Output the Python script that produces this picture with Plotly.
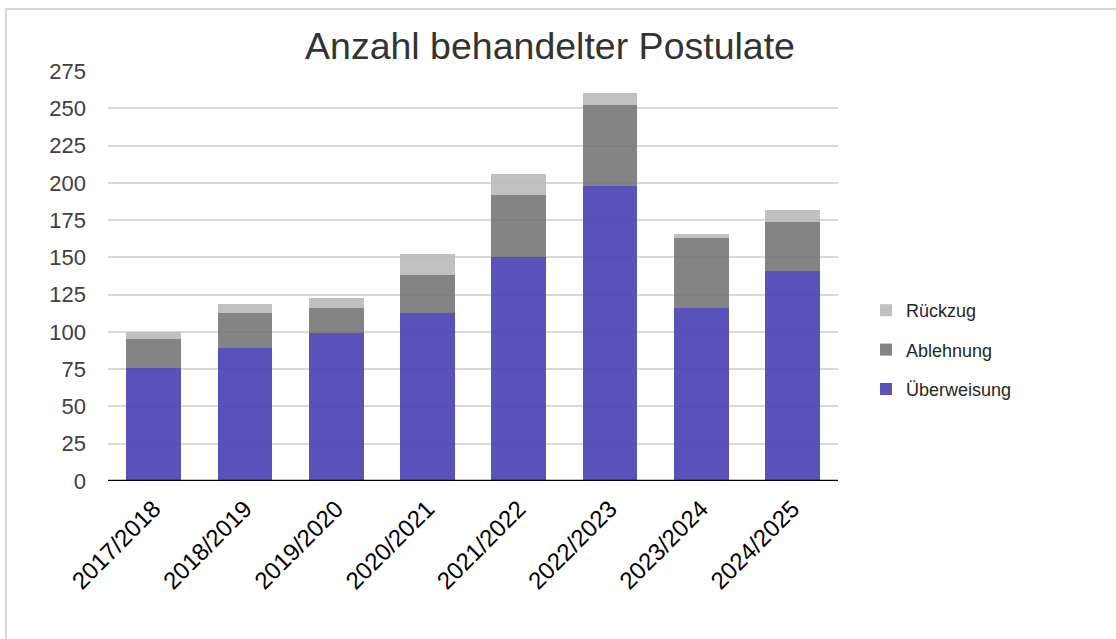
import plotly.graph_objects as go

categories = ["2017/2018", "2018/2019", "2019/2020", "2020/2021",
              "2021/2022", "2022/2023", "2023/2024", "2024/2025"]
ueberweisung = [76, 89, 99, 113, 150, 198, 116, 141]
ablehnung = [19, 24, 17, 25, 42, 54, 47, 33]
rueckzug = [5, 6, 7, 14, 14, 8, 3, 8]
y_ticks = list(range(0, 276, 25))

FONT = "Liberation Sans, Arial, sans-serif"

fig = go.Figure()
fig.add_trace(go.Bar(x=categories, y=ueberweisung, name="Überweisung",
                     marker=dict(color="rgba(72,62,180,0.9)", line=dict(width=0)),
                     legendgroup="a", legendrank=3))
fig.add_trace(go.Bar(x=categories, y=ablehnung, name="Ablehnung",
                     marker=dict(color="rgba(115,115,115,0.88)", line=dict(width=0)),
                     legendgroup="b", legendrank=2))
fig.add_trace(go.Bar(x=categories, y=rueckzug, name="Rückzug",
                     marker=dict(color="rgba(185,185,185,0.9)", line=dict(width=0)),
                     legendgroup="c", legendrank=1))

L, R, T, B = 108, 838, 71, 481
W, H = 1116, 639
pw, ph = R - L, B - T

def px(xp):
    return (xp - L) / pw

def py(yp):
    return (B - yp) / ph

fig.update_layout(
    width=W, height=H,
    barmode="stack", bargap=0.4,
    plot_bgcolor="white", paper_bgcolor="white",
    margin=dict(l=L, r=W - R, t=T, b=H - B, autoexpand=False),
    font=dict(family=FONT, color="#404040", size=16),
    title=dict(text="Anzahl behandelter Postulate", x=px(550), xref="paper",
               xanchor="center", y=1 - 46 / H, yanchor="middle",
               font=dict(size=37.5, color="#333333", family=FONT)),
    legend=dict(x=px(866), xanchor="left", y=py(292), yanchor="top",
                traceorder="grouped", tracegroupgap=13,
                font=dict(size=18, color="#262626", family=FONT),
                itemwidth=30, bgcolor="rgba(0,0,0,0)"),
    xaxis=dict(tickangle=-45, tickfont=dict(size=24, color="#000000"),
               showgrid=False, showline=False, ticks="",
               zeroline=False, ticklabelstandoff=8),
    yaxis=dict(range=[0, 275], tickvals=y_ticks, showgrid=True,
               gridcolor="#D9D9D9", gridwidth=1.5, zeroline=False,
               tickfont=dict(size=22, color="#404040"), ticks="",
               ticklabelstandoff=21),
    shapes=[
        dict(type="line", xref="paper", yref="paper", x0=px(6), x1=px(6),
             y0=py(640), y1=py(9), line=dict(color="#D9D9D9", width=2)),
        dict(type="line", xref="paper", yref="paper", x0=px(5), x1=px(1120),
             y0=py(9), y1=py(9), line=dict(color="#D9D9D9", width=2)),
        dict(type="line", xref="paper", yref="y", x0=0, x1=1,
             y0=0, y1=0, line=dict(color="#000000", width=2.5)),
    ],
)

fig.write_html("out.html", config={"displayModeBar": False},
               post_script="document.body.style.margin='0';document.body.style.overflow='hidden';")
